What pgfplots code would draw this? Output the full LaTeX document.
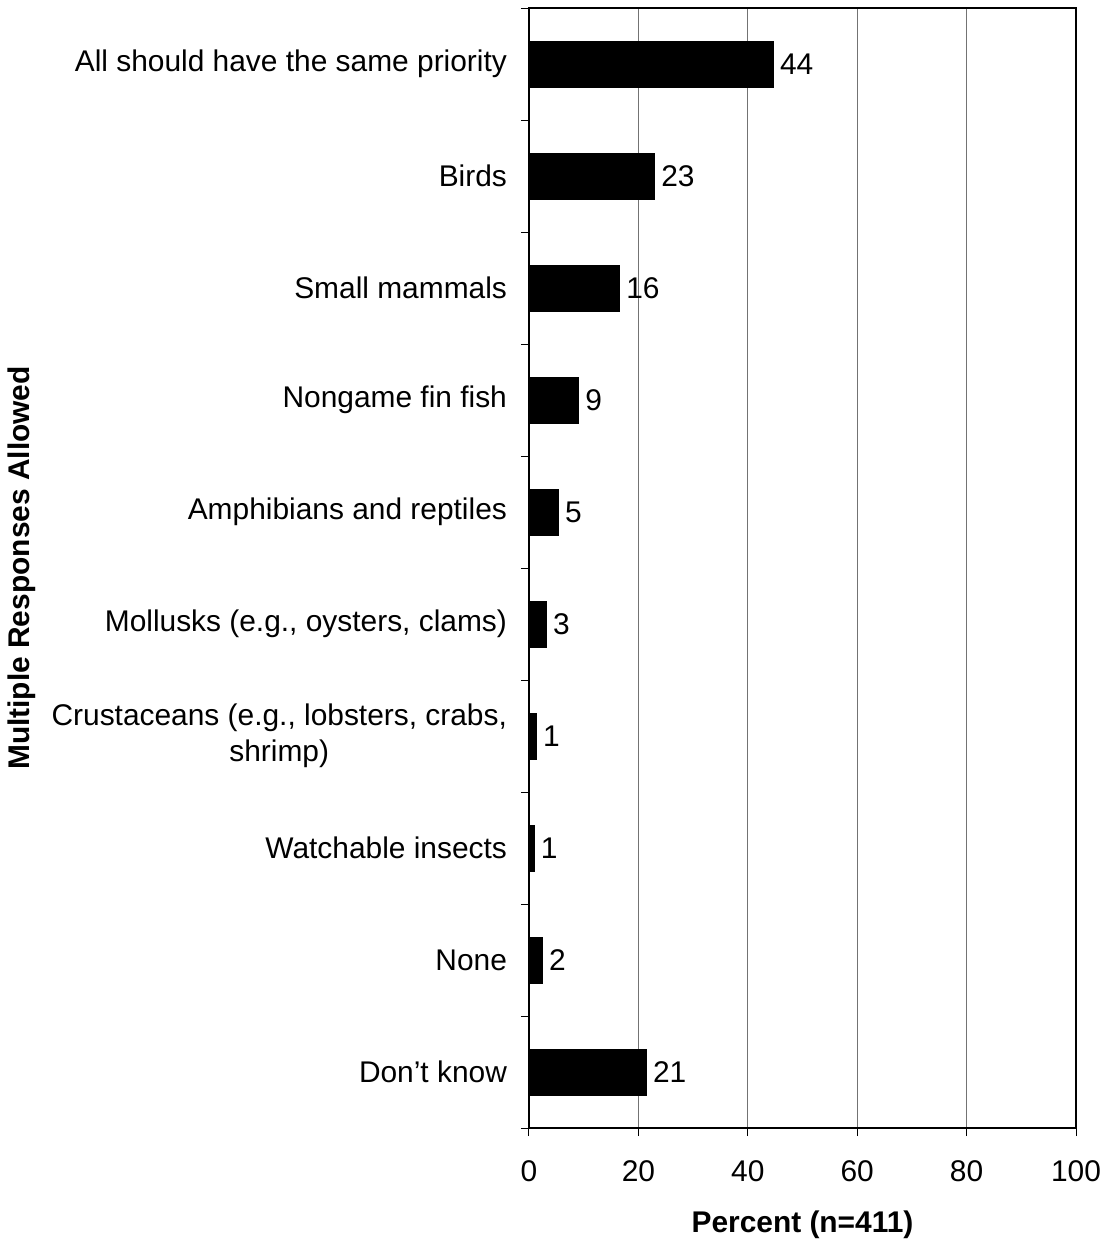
\documentclass[border=0pt]{standalone}
\usepackage{pgfplots}
\pgfplotsset{compat=1.18}
\usepackage{pgfplotstable}
\usepackage{fontspec}
\setmainfont{Liberation Sans}
\newcommand{\chartfont}{\fontsize{14.95}{17.9}\selectfont}

% bar lengths; labels are the printed (rounded) values
\pgfplotstableread{
pos value label
0 44.6 44
1 22.9 23
2 16.5 16
3 9.0 9
4 5.3 5
5 3.1 3
6 1.3 1
7 0.9 1
8 2.4 2
9 21.4 21
}\data

\begin{document}
\begin{tikzpicture}
\useasboundingbox (-264.5pt,-56.5pt) rectangle (289pt,564pt);
\begin{axis}[
    at={(0,0)}, anchor=south west,
    scale only axis, width=273.5pt, height=560pt,
    xbar, bar width=23pt,
    xmin=0, xmax=100, ymin=-0.5, ymax=9.5, y dir=reverse,
    xtick={0,20,...,100},
    ytick={0,...,9},
    yticklabels={All should have the same priority, Birds, Small mammals,
        Nongame fin fish, Amphibians and reptiles,
        {Mollusks (e.g., oysters, clams)},
        {Crustaceans (e.g., lobsters, crabs,\\ shrimp)},
        Watchable insects, None, Don't know},
    minor ytick={-0.5,0.5,...,9.5},
    major y tick style={draw=none},
    tick align=outside, xtick pos=bottom, ytick pos=left,
    major tick length=4pt, minor tick length=4pt,
    tick style={black, line width=0.5pt},
    xmajorgrids, grid style={black!55, line width=0.5pt},
    axis line style={line width=1pt},
    tick label style={font=\chartfont},
    /pgf/number format/assume math mode=true,
    yticklabel style={align=center, xshift=-3.5pt},
    xticklabel style={yshift=-9pt},
    xlabel={Percent (n=411)}, ylabel={Multiple Responses Allowed},
    label style={font=\chartfont\bfseries},
    xlabel style={at={(axis description cs:0.5,-0.0866)}, anchor=center},
    ylabel style={at={(axis description cs:-0.927,0.5)}, anchor=center},
    nodes near coords, point meta=explicit symbolic,
    nodes near coords style={font=\chartfont, anchor=west, black},
]
\addplot[fill=black, draw=black] table[x=value, y=pos, meta=label]{\data};
\end{axis}
\end{tikzpicture}
\end{document}
